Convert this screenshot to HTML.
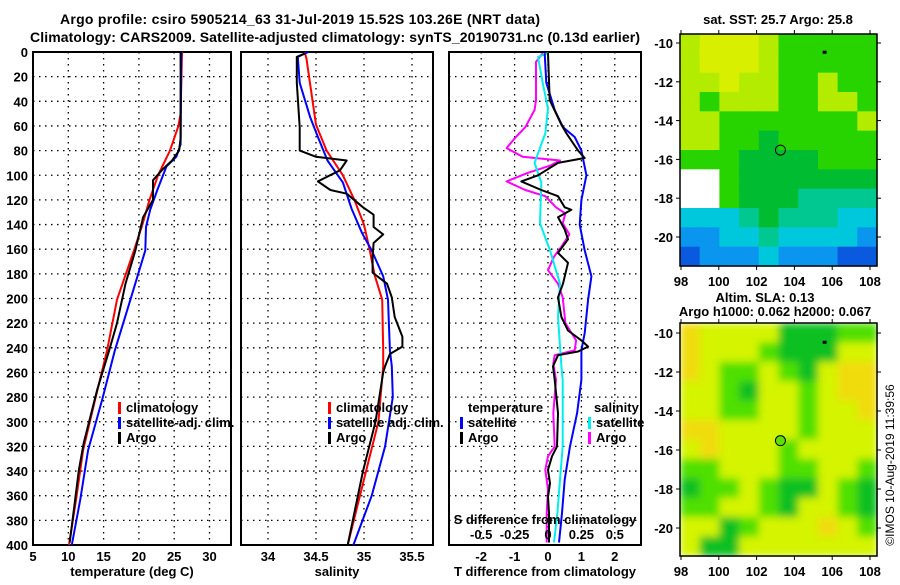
<!DOCTYPE html>
<html><head><meta charset="utf-8"><style>
body{margin:0;background:#fff;width:900px;height:580px;overflow:hidden}
svg text{font-family:"Liberation Sans",sans-serif;font-weight:bold;font-size:13px;fill:#000}
</style></head><body>
<svg id="c" width="900" height="580" xmlns="http://www.w3.org/2000/svg"></svg>
<script>
// ---- data ----
const depthTArgo=[0,70,80,88,95,104,120,134,161,188,220,242,274,317,339,366,398];
const tArgo=[25.9,25.9,25.7,24.7,23.4,22.0,22.0,20.6,19.5,18.1,16.9,15.8,14.1,12.2,11.5,10.9,10.2];
const depthTClim=[0,50,60,80,100,120,140,161,201,242,282,323,363,400];
const tClim=[26.1,25.9,25.6,24.4,22.7,21.5,20.5,19.3,16.9,15.5,13.8,12.1,11.1,10.1];
const depthTSat=[0,75,85,93,112,128,142,161,201,242,282,323,363,400];
const tSat=[26.0,25.9,25.3,23.9,22.6,21.6,21.0,20.9,18.8,16.6,14.8,12.8,11.7,10.5];

const depthSArgo=[1,4,25,61,80,85,88,96,105,112,115,126,132,142,148,155,166,179,188,199,215,231,239,245,255,260,300,340,400];
const sArgo=[34.39,34.30,34.30,34.33,34.33,34.50,34.82,34.75,34.52,34.65,34.82,34.99,35.10,35.10,35.20,35.10,35.09,35.09,35.24,35.29,35.32,35.40,35.40,35.27,35.22,35.20,35.12,34.99,34.83];
const depthSClim=[0,5,59,80,100,120,140,161,181,201,242,255,300,350,400];
const sClim=[34.38,34.40,34.50,34.61,34.78,34.90,35.00,35.06,35.11,35.19,35.20,35.20,35.15,34.99,34.83];
const depthSSat=[0,4,25,53,69,88,106,127,147,161,182,201,242,255,280,320,360,400];
const sSat=[34.42,34.31,34.33,34.44,34.52,34.62,34.78,34.87,34.98,35.08,35.20,35.25,35.27,35.29,35.30,35.22,35.08,34.89];

const depthDT=[1,39,59,66,80,86,90,100,105,112,117,126,128,134,144,152,163,171,188,199,215,226,234,239,243,246,255,266,293,320,328,339,350,361,374,398];
const dTArgo=[0,0.05,0.4,0.55,0.9,1.1,0.3,-0.3,-0.8,-0.2,0.3,0.5,0.7,0.3,0.5,0.6,0.3,0.6,0.45,0.3,0.4,0.6,1.0,1.2,0.9,0.3,0.15,0.2,0.3,0.27,0.12,0,0.06,0,0.03,0.03];
const depthDTSat=[1,25,47,61,69,80,100,120,140,161,182,201,228,242,255,266,293,320,347,374,398];
const dTSat=[-0.1,-0.05,0.2,0.45,0.8,1.0,1.15,1.0,0.95,1.1,1.3,1.2,1.1,1.0,1.0,1.0,0.87,0.66,0.5,0.42,0.33];
const depthDSSat=[1,4,25,46,66,90,106,139,161,188,215,255,266,293,320,347,374,398];
const dSSat=[0,-0.075,-0.04,0,-0.02,-0.1,-0.05,-0.06,0.015,0.09,0.075,0.1,0.11,0.11,0.11,0.09,0.07,0.045];
const depthDSArgo=[1,8,39,47,61,69,78,85,88,92,98,105,112,117,126,131,139,148,158,166,177,188,199,220,234,242,246,253,266,293,320,328,339,355,374,398];
const dSArgo=[-0.04,-0.09,-0.09,-0.1,-0.17,-0.24,-0.31,-0.19,0.09,0.02,-0.15,-0.31,-0.17,-0.02,0.06,0.13,0.11,0.16,0.1,0.045,0,0.075,0.11,0.13,0.21,0.2,0.05,0.04,0.06,0.04,0.05,0,-0.02,0,-0.01,-0.01];

const depthTicks=[0,20,40,60,80,100,120,140,160,180,200,220,240,260,280,300,320,340,360,380,400];
const tTicks=[5,10,15,20,25,30];
const sTicks=[34,34.5,35,35.5];
const sTickLabels=["34","34.5","35","35.5"];
const dTTicks=[-2,-1,0,1,2];
const dSTicks=[-0.5,-0.25,0,0.25,0.5];
const lonTicks=[98,100,102,104,106,108];
const latTicks=[-10,-12,-14,-16,-18,-20];

const sstRows=["LYYYLGGGGG","LYYYLGGGGG","LLYLLGGLGG","LGLLLGGLLG","LLGGGGGGGL","LLGGDGGGGG","GGGDDDDGGG","WWGDDDDDDD","WWGDDDTTTT","CCCTDTTTCC","BBCCTCCCCB","NBBBCBBBNN"];
const slaRows=["OYYYYDDDGG","OYYYGDDDYY","OYGGYGDYOO","YYGDYYGYOO","YYGGYYGYYO","OOYYYYGYYY","YOYYYGYYYY","GGYYYGGYYG","DGGYGDDYGD","GGYYGDYYGD","YYDGYYYOYG","YDDYYYYYYY"];

// ---- drawing ----
const NS="http://www.w3.org/2000/svg";
const svg=document.getElementById('c');
function mk(tag,attrs,parent){const e=document.createElementNS(NS,tag);for(const k in attrs)e.setAttribute(k,attrs[k]);(parent||svg).appendChild(e);return e;}
function txt(x,y,s,anchor,parent){const t=mk('text',{x:x,y:y,'text-anchor':anchor||'middle'},parent);t.textContent=s;return t;}

const TOP=52,BOT=545;
function yD(d){return TOP+d*(BOT-TOP)/400;}

function panel(name,x0,x1,xf,ticks,labels,xlabel,labelY){
  const g=mk('g',{});
  
  
  depthTicks.forEach(d=>{ if(d>0&&d<400) mk('line',{x1:x0,x2:x1,y1:yD(d),y2:yD(d),stroke:'#000','stroke-dasharray':'1.5,4.5','stroke-width':1.3},g);});
  ticks.forEach((v,i)=>{const x=xf(v);
    if(x>x0+2&&x<x1-2) mk('line',{x1:x,x2:x,y1:TOP,y2:BOT,stroke:'#000','stroke-dasharray':'1.5,4.5','stroke-width':1.3},g);
    if(labels) txt(x,labelY,labels[i],'middle',g);});
  mk('rect',{x:x0,y:TOP,width:x1-x0,height:BOT-TOP,fill:'none',stroke:'#000','stroke-width':2},g);
  if(xlabel) txt((x0+x1)/2,576,xlabel,'middle',g);
  return g;
}
function line(g,name,xs,ds,xf,color,w){
  const pts=xs.map((v,i)=>xf(v).toFixed(1)+','+yD(ds[i]).toFixed(1)).join(' ');
  const p=mk('polyline',{points:pts,fill:'none',stroke:color,'stroke-width':w||2,'stroke-linejoin':'round'},g);
  
  
}
function legend(g,x,y,color,label,name){
  mk('rect',{x:x,y:y-10,width:3,height:12,fill:color},g);
  const t=txt(x+8,y,label,'start',g);
  
  
}

// titles
const t1=txt(300,24,"Argo profile: csiro 5905214_63 31-Jul-2019 15.52S 103.26E (NRT data)");
t1.setAttribute('textLength','480');t1.setAttribute('style','font-size:14px');

const t2=txt(335,42,"Climatology: CARS2009. Satellite-adjusted climatology: synTS_20190731.nc (0.13d earlier)");
t2.setAttribute('textLength','610');t2.setAttribute('style','font-size:14px');


// depth labels
depthTicks.forEach(d=>{const t=txt(28,yD(d)+5,String(d),'end');
  });

// Panel 1 temperature
const xT=v=>33+(v-5)*7.06;
const g1=panel('temperature-panel',33,231,xT,tTicks,tTicks.map(String),'temperature (deg C)',561);
line(g1,'temp-climatology-line',tClim,depthTClim,xT,'#f00');
line(g1,'temp-satellite-line',tSat,depthTSat,xT,'#00f');
line(g1,'temp-argo-line',tArgo,depthTArgo,xT,'#000');
legend(g1,118,412,'#f00','climatology','legend-climatology');
legend(g1,118,427,'#00f','satellite-adj. clim.','legend-satellite');
legend(g1,118,442,'#000','Argo','legend-argo');

// Panel 2 salinity
const xS=v=>268+(v-34)*96;
const g2=panel('salinity-panel',241,433,xS,sTicks,sTickLabels,'salinity',561);
line(g2,'sal-climatology-line',sClim,depthSClim,xS,'#f00');
line(g2,'sal-satellite-line',sSat,depthSSat,xS,'#00f');
line(g2,'sal-argo-line',sArgo,depthSArgo,xS,'#000');
legend(g2,328,412,'#f00','climatology','legend-sal-climatology');
legend(g2,328,427,'#00f','satellite adj. clim.','legend-sal-satellite');
legend(g2,328,442,'#000','Argo','legend-sal-argo');

// Panel 3 differences
const xDT=v=>548+v*33.4;
const xDS=v=>548+v*133.6;
const g3=panel('difference-panel',449,641,xDT,dTTicks,dTTicks.map(String),'T difference from climatology',561);
line(g3,'sal-diff-argo-line',dSArgo,depthDSArgo,xDS,'#f0f');
line(g3,'sal-diff-satellite-line',dSSat,depthDSSat,xDS,'#0ee');
line(g3,'temp-diff-satellite-line',dTSat,depthDTSat,xDT,'#00f');
line(g3,'temp-diff-argo-line',dTArgo,depthDT,xDT,'#000');
const lt=txt(468,412,'temperature','start',g3);
const ls=txt(594,412,'salinity','start',g3);
legend(g3,460,427,'#00f','satellite','legend-t-satellite');
legend(g3,460,442,'#000','Argo','legend-t-argo');
legend(g3,588,427,'#0ee','satellite','legend-s-satellite');
legend(g3,588,442,'#f0f','Argo','legend-s-argo');
const sl=txt(545,524,'S difference from climatology','middle',g3);
dSTicks.forEach(v=>{const t=txt(xDS(v),539,String(v),'middle',g3);});

// Maps
const sstCol={L:'#b4ec00',Y:'#d8f000',G:'#28d400',D:'#00bc30',T:'#00c890',C:'#00c8dc',B:'#0a96ee',N:'#0a5ae0',W:'#ffffff'};
const slaCol={O:'#f0dc10',Y:'#d4f400',G:'#50e000',D:'#10c020'};
const flt=mk('filter',{id:'bl',x:'0',y:'0',width:'1',height:'1'});
mk('feGaussianBlur',{stdDeviation:'4'},flt);
function map(name,y0,y1,latY10,latY20,rows,cols,circleFill,blur){
  const x0=680,x1=877;
  const g=mk('g',{});
  
  
  const nr=rows.length,nc=rows[0].length,cw=(x1-x0)/nc,ch=(y1-y0)/nr;
  const cg=mk('g',blur?{filter:'url(#bl)'}:{},g);
  rows.forEach((r,i)=>{for(let j=0;j<nc;j++) mk('rect',{x:x0+j*cw,y:y0+i*ch,width:cw+0.6,height:ch+0.6,fill:cols[r[j]]},cg);});
  const lonX=v=>681+(v-98)*18.9, latY=v=>latY10+(-10-v)*(latY20-latY10)/10;
  mk('rect',{x:x0,y:y0,width:x1-x0,height:y1-y0,fill:'none',stroke:'#000','stroke-width':1.5},g);
  lonTicks.forEach(v=>{const x=lonX(v);mk('line',{x1:x,x2:x,y1:y1,y2:y1+4,stroke:'#000'},g);mk('line',{x1:x,x2:x,y1:y0,y2:y0-4,stroke:'#000'},g);
    txt(x,y1+20,String(v),'middle',g);});
  latTicks.forEach(v=>{const y=latY(v);mk('line',{x1:x0-4,x2:x0,y1:y,y2:y,stroke:'#000'},g);mk('line',{x1:x1,x2:x1+4,y1:y,y2:y,stroke:'#000'},g);
    txt(673,y+5,String(v),'end',g);});
  mk('circle',{cx:lonX(103.26),cy:latY(-15.52),r:5,fill:circleFill,stroke:'#000','stroke-width':1},g);
  mk('rect',{x:lonX(105.6)-2,y:latY(-10.5)-2,width:4,height:3,fill:'#000'},g);
  return g;
}
map('sst-map',34,266,43,237,sstRows,sstCol,"none",false);
map('sla-map',323,556,333,528,slaRows,slaCol,"#60e000",true);
const m1=txt(778,24,'sat. SST: 25.7 Argo: 25.8');
const m2=txt(765,302,'Altim. SLA: 0.13');
const m3=txt(775,316,'Argo h1000: 0.062 h2000: 0.067');
const cr=txt(0,0,'©IMOS 10-Aug-2019 11:39:56','middle');
cr.setAttribute('transform','translate(894,465) rotate(-90)');
cr.setAttribute('style','font-weight:normal;font-size:12px');

</script>
</body></html>
